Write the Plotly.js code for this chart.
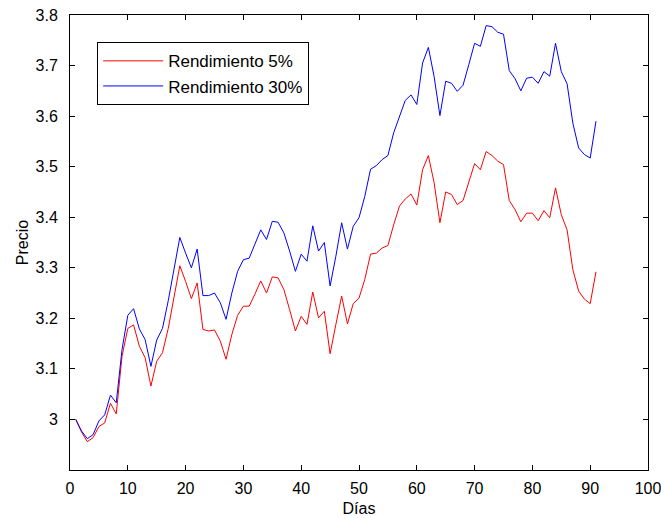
<!DOCTYPE html>
<html>
<head>
<meta charset="utf-8">
<script src="https://cdn.plot.ly/plotly-3.0.1.min.js"></script>
<style>html,body{margin:0;padding:0;background:#fff;}#chart{width:661px;height:518px;}</style>
</head>
<body>
<div id="chart"></div>
<script>
// Días 1..91
const dias = Array.from({length: 91}, (_, i) => i + 1);

const rend5 = [
  3.000, 2.975, 2.956, 2.964, 2.986, 2.993, 3.032, 3.011, 3.125, 3.180,
  3.187, 3.145, 3.122, 3.066, 3.115, 3.132, 3.180, 3.240, 3.304, 3.273,
  3.239, 3.270, 3.178, 3.175, 3.177, 3.155, 3.119, 3.168, 3.206, 3.224,
  3.224, 3.248, 3.274, 3.250, 3.282, 3.280, 3.257, 3.217, 3.175, 3.204,
  3.188, 3.252, 3.201, 3.214, 3.130, 3.188, 3.244, 3.189, 3.229, 3.240,
  3.277, 3.327, 3.329, 3.339, 3.344, 3.385, 3.422, 3.436, 3.446, 3.424,
  3.494, 3.522, 3.468, 3.389, 3.450, 3.445, 3.425, 3.433, 3.468, 3.506,
  3.494, 3.530, 3.522, 3.511, 3.504, 3.433, 3.415, 3.391, 3.408, 3.408,
  3.393, 3.413, 3.399, 3.458, 3.405, 3.375, 3.296, 3.254, 3.238, 3.229,
  3.292
];

const rend30 = [
  3.000, 2.977, 2.962, 2.970, 2.997, 3.009, 3.048, 3.033, 3.138, 3.206,
  3.219, 3.179, 3.158, 3.105, 3.157, 3.180, 3.235, 3.300, 3.360, 3.329,
  3.300, 3.337, 3.245, 3.245, 3.250, 3.231, 3.198, 3.250, 3.293, 3.316,
  3.319, 3.347, 3.375, 3.356, 3.392, 3.390, 3.369, 3.333, 3.293, 3.327,
  3.313, 3.383, 3.333, 3.350, 3.264, 3.323, 3.389, 3.337, 3.382, 3.399,
  3.441, 3.495, 3.502, 3.514, 3.522, 3.567, 3.601, 3.631, 3.642, 3.623,
  3.705, 3.736, 3.678, 3.601, 3.669, 3.665, 3.649, 3.661, 3.702, 3.744,
  3.738, 3.779, 3.777, 3.766, 3.762, 3.690, 3.674, 3.650, 3.675, 3.677,
  3.665, 3.688, 3.679, 3.744, 3.688, 3.664, 3.586, 3.537, 3.524, 3.517,
  3.590
];

const xTicks = [0, 10, 20, 30, 40, 50, 60, 70, 80, 90, 100];
const yTicks = [3.0, 3.1, 3.2, 3.3, 3.4, 3.5, 3.6, 3.7, 3.8];
const yTickText = ['3', '3.1', '3.2', '3.3', '3.4', '3.5', '3.6', '3.7', '3.8'];

const fam = 'Liberation Sans, Arial, sans-serif';
const tickFont = {family: fam, size: 16, color: '#000'};
const titleFont = {family: fam, size: 16, color: '#000'};
const legendFont = {family: fam, size: 17, color: '#000'};

const traces = [
  {x: dias, y: rend5, type: 'scatter', mode: 'lines', name: 'Rendimiento 5%',
   line: {color: '#ff0000', width: 1}},
  {x: dias, y: rend30, type: 'scatter', mode: 'lines', name: 'Rendimiento 30%',
   line: {color: '#0000ff', width: 1}}
];

const axisCommon = {
  showgrid: false, zeroline: false, showline: true, linecolor: '#000', linewidth: 1,
  mirror: 'ticks', ticks: 'inside', ticklen: 5, tickcolor: '#000', tickwidth: 1,
  tickfont: tickFont, ticklabeloverflow: 'allow'
};

const layout = {
  width: 661, height: 518,
  margin: {l: 70, r: 13, t: 15, b: 48},
  paper_bgcolor: '#fff', plot_bgcolor: '#fff',
  font: tickFont,
  showlegend: true,
  legend: {x: 0.047, y: 0.94, xanchor: 'left', yanchor: 'top',
           bgcolor: '#fff', bordercolor: '#000', borderwidth: 1,
           font: legendFont, tracegroupgap: 0, itemwidth: 60},
  xaxis: Object.assign({}, axisCommon, {
    range: [0, 100], tickvals: xTicks, ticktext: xTicks.map(String),
    ticklabelstandoff: 4,
    title: {text: 'Días', font: titleFont, standoff: 6}
  }),
  yaxis: Object.assign({}, axisCommon, {
    range: [2.9, 3.8], tickvals: yTicks, ticktext: yTickText,
    ticklabelstandoff: 8,
    title: {text: 'Precio', font: titleFont, standoff: 2}
  })
};

Plotly.newPlot('chart', traces, layout, {displayModeBar: false, staticPlot: true});
</script>
</body>
</html>
